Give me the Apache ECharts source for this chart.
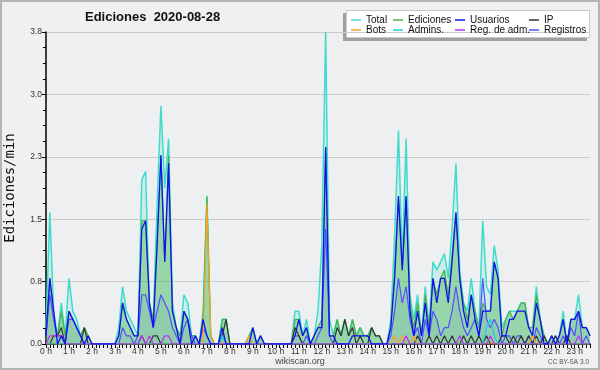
<!DOCTYPE html>
<html>
<head>
<meta charset="utf-8">
<script src="https://cdn.jsdelivr.net/npm/echarts@6/dist/echarts.min.js"></script>
<style>
    html, body { margin: 0; padding: 0; background: #f0f0f0; }
    #chart { width: 600px; height: 370px; }
</style>
</head>
<body>
<div id="chart"></div>
<script>
// etiquetas de las horas (una marca cada 10 minutos, 6 por hora)
const hourLabels = ['0 h', '1 h', '2 h', '3 h', '4 h', '5 h', '6 h', '7 h', '8 h', '9 h', '10 h', '11 h',
    '12 h', '13 h', '14 h', '15 h', '16 h', '17 h', '18 h', '19 h', '20 h', '21 h', '22 h', '23 h']
const yTicks = [0, 0.76, 1.52, 2.28, 3.04, 3.8]

// ediciones por minuto, bloques de 10 min (una fila = una hora)
const total = [
    0.2, 1.6, 0.4, 0.1, 0.5, 0.1,
    0.8, 0.4, 0.3, 0.1, 0.2, 0.1,
    0, 0, 0, 0, 0, 0,
    0, 0.2, 0.7, 0.4, 0.3, 0.2,
    0.1, 2.0, 2.1, 0.4, 0.3, 1.7,
    2.9, 1.9, 2.5, 0.5, 0.2, 0.1,
    0.6, 0.5, 0.1, 0.1, 0, 0.4,
    1.8, 0.1, 0, 0, 0.3, 0.3,
    0, 0, 0, 0, 0, 0.1,
    0.2, 0, 0.1, 0, 0, 0,
    0, 0, 0, 0, 0, 0.4,
    0.4, 0.1, 0.3, 0, 0.1, 0.4,
    1.2, 3.8, 0.3, 0.1, 0.3, 0.1,
    0.3, 0.1, 0.3, 0.1, 0.2, 0.1,
    0.1, 0.2, 0.1, 0.1, 0, 0,
    0.3, 1.3, 2.6, 1.0, 2.5, 0.6,
    0.3, 0.6, 0.1, 0.7, 0.2, 1.0,
    0.9, 1.0, 1.1, 0.8, 1.4, 2.2,
    0.9, 0.5, 0.4, 0.8, 0.4, 0.2,
    1.5, 0.7, 0.6, 1.2, 0.9, 0.2,
    0.3, 0.4, 0.4, 0.4, 0.5, 0.5,
    0.2, 0.2, 0.7, 0.3, 0.1, 0,
    0.1, 0, 0.1, 0.4, 0, 0.3,
    0.3, 0.6, 0.2, 0.2, 0.1
]
const ediciones = [
    0.2, 0.8, 0.3, 0.1, 0.4, 0.1,
    0.4, 0.3, 0.2, 0.1, 0.2, 0.1,
    0, 0, 0, 0, 0, 0,
    0, 0.1, 0.5, 0.3, 0.2, 0.1,
    0.1, 1.5, 1.5, 0.5, 0.3, 1.3,
    2.3, 1.0, 2.3, 0.4, 0.2, 0.1,
    0.4, 0.3, 0.1, 0.1, 0, 0.3,
    1.8, 0.1, 0, 0, 0.3, 0.3,
    0, 0, 0, 0, 0, 0.1,
    0.2, 0, 0.1, 0, 0, 0,
    0, 0, 0, 0, 0, 0.3,
    0.3, 0.1, 0.2, 0, 0.1, 0.2,
    0.3, 2.4, 0.1, 0.1, 0.3, 0.1,
    0.3, 0.1, 0.3, 0.1, 0.2, 0.1,
    0.1, 0.2, 0.1, 0.1, 0, 0,
    0.2, 0.9, 1.8, 0.9, 1.8, 0.5,
    0.2, 0.5, 0.1, 0.6, 0.2, 0.8,
    0.6, 0.8, 0.9, 0.6, 1.1, 1.6,
    0.8, 0.5, 0.3, 0.6, 0.4, 0.2,
    0.5, 0.4, 0.4, 1.0, 0.8, 0.1,
    0.3, 0.4, 0.3, 0.4, 0.5, 0.5,
    0.2, 0.2, 0.6, 0.3, 0.1, 0,
    0.1, 0, 0.1, 0.3, 0, 0.3,
    0.3, 0.4, 0.2, 0.2, 0.1
]
const usuarios = [
    0.1, 0.8, 0.4, 0, 0.1, 0,
    0.4, 0.3, 0.2, 0.1, 0, 0.1,
    0, 0, 0, 0, 0, 0,
    0, 0.1, 0.5, 0.3, 0.2, 0.1,
    0.1, 1.4, 1.5, 0.5, 0.2, 1.2,
    2.3, 1.0, 2.2, 0.4, 0.2, 0,
    0.4, 0.3, 0, 0.1, 0, 0.3,
    0.1, 0, 0, 0, 0.2, 0,
    0, 0, 0, 0, 0, 0,
    0.2, 0, 0.1, 0, 0, 0,
    0, 0, 0, 0, 0, 0.1,
    0.3, 0.1, 0.2, 0, 0.1, 0.2,
    0.2, 2.4, 0.1, 0.1, 0, 0,
    0, 0, 0.1, 0.1, 0.1, 0.1,
    0.1, 0, 0, 0, 0, 0,
    0.2, 0.8, 1.8, 0.9, 1.8, 0.4,
    0.1, 0.4, 0.1, 0.5, 0.1, 0.8,
    0.5, 0.8, 0.8, 0.5, 1.0, 1.6,
    0.8, 0.4, 0.2, 0.6, 0.3, 0.1,
    0.4, 0.4, 0.4, 1.0, 0.8, 0.1,
    0.1, 0.3, 0.3, 0.4, 0.4, 0.4,
    0.2, 0.1, 0.5, 0.3, 0, 0,
    0.1, 0, 0.1, 0.3, 0, 0.3,
    0.3, 0.4, 0.2, 0.2, 0.1
]
const ip = [
    0, 0, 0.1, 0.1, 0.2, 0,
    0, 0, 0, 0, 0.2, 0,
    0, 0, 0, 0, 0, 0,
    0, 0, 0, 0, 0, 0,
    0, 0.1, 0, 0, 0.1, 0.1,
    0, 0, 0, 0, 0, 0,
    0, 0, 0, 0, 0, 0,
    0, 0, 0, 0, 0.1, 0.3,
    0, 0, 0, 0, 0, 0,
    0, 0, 0, 0, 0, 0,
    0, 0, 0, 0, 0, 0.2,
    0.1, 0, 0, 0, 0, 0,
    0, 0, 0, 0, 0.2, 0.1,
    0.3, 0.1, 0.2, 0, 0.1, 0,
    0, 0.2, 0.1, 0.1, 0, 0,
    0, 0, 0, 0, 0, 0,
    0, 0.1, 0, 0, 0.1, 0,
    0.1, 0, 0.1, 0, 0.1, 0,
    0, 0.1, 0, 0.1, 0, 0.1,
    0, 0.1, 0, 0, 0, 0.1,
    0.1, 0, 0.1, 0, 0.1, 0,
    0.1, 0, 0.1, 0, 0.1, 0,
    0, 0.1, 0, 0, 0.1, 0,
    0, 0, 0, 0, 0
]
const registros = [
    0.1, 0.6, 0.3, 0.1, 0.1, 0,
    0.3, 0.3, 0.2, 0.1, 0, 0,
    0, 0, 0, 0, 0, 0,
    0, 0, 0.2, 0.1, 0.1, 0,
    0.1, 0.6, 0.6, 0.4, 0.2, 0.4,
    0.6, 0.5, 0.4, 0.2, 0.1, 0,
    0.2, 0.3, 0.1, 0, 0, 0.2,
    0.1, 0, 0, 0, 0.1, 0,
    0, 0, 0, 0, 0, 0,
    0, 0, 0, 0, 0, 0,
    0, 0, 0, 0, 0, 0.1,
    0.1, 0, 0.1, 0, 0, 0.1,
    0.2, 1.4, 0.1, 0, 0, 0,
    0, 0, 0, 0, 0, 0,
    0, 0, 0, 0, 0, 0,
    0.1, 0.4, 0.8, 0.5, 0.7, 0.3,
    0.1, 0.2, 0, 0.3, 0.1, 0.4,
    0.3, 0.1, 0.2, 0.2, 0.4, 0.7,
    0.4, 0.2, 0.1, 0.2, 0.3, 0.1,
    0.8, 0.3, 0.2, 0.3, 0.2, 0,
    0.1, 0.1, 0, 0.1, 0.1, 0,
    0.1, 0, 0.2, 0.1, 0, 0,
    0, 0.1, 0, 0.1, 0, 0.2,
    0.1, 0.4, 0, 0.1, 0
]
const bots = [
    0, 0, 0, 0, 0, 0,
    0, 0, 0, 0, 0, 0,
    0, 0, 0, 0, 0, 0,
    0, 0, 0, 0, 0, 0,
    0, 0, 0, 0, 0, 0,
    0, 0, 0, 0, 0, 0,
    0, 0, 0, 0, 0, 0,
    1.7, 0.1, 0, 0, 0, 0,
    0, 0, 0, 0, 0, 0.1,
    0, 0, 0, 0, 0, 0,
    0, 0, 0, 0, 0, 0,
    0, 0, 0, 0, 0, 0,
    0, 0, 0, 0, 0, 0,
    0, 0, 0, 0, 0, 0,
    0, 0, 0, 0, 0, 0,
    0, 0.1, 0, 0.1, 0, 0,
    0.1, 0, 0, 0, 0, 0,
    0, 0, 0, 0, 0, 0,
    0, 0, 0, 0, 0, 0,
    0, 0, 0, 0, 0, 0,
    0, 0, 0, 0, 0, 0,
    0, 0.1, 0, 0, 0, 0,
    0, 0, 0, 0, 0, 0,
    0, 0, 0, 0, 0
]
const admins = [
    0, 0, 0, 0, 0, 0,
    0, 0, 0, 0, 0, 0,
    0, 0, 0, 0, 0, 0,
    0, 0, 0, 0, 0, 0,
    0, 0, 0, 0, 0, 0,
    0, 0, 0, 0, 0, 0,
    0, 0, 0, 0, 0, 0,
    0, 0, 0, 0, 0.1, 0,
    0, 0, 0, 0, 0, 0,
    0, 0, 0, 0, 0, 0,
    0, 0, 0, 0, 0, 0,
    0, 0, 0, 0, 0, 0,
    0, 0, 0, 0, 0, 0,
    0, 0, 0, 0, 0, 0,
    0, 0, 0, 0, 0, 0,
    0, 0, 0, 0, 0, 0,
    0, 0, 0, 0, 0, 0,
    0, 0, 0, 0, 0, 0,
    0, 0, 0, 0, 0, 0,
    0, 0.2, 0.3, 0.1, 0, 0,
    0, 0, 0, 0, 0, 0,
    0, 0, 0, 0, 0, 0,
    0, 0, 0, 0, 0, 0,
    0, 0, 0, 0, 0
]
const regAdm = [
    0, 0.1, 0.1, 0.1, 0.1, 0,
    0, 0, 0, 0, 0, 0,
    0, 0, 0, 0, 0, 0,
    0, 0, 0, 0, 0, 0,
    0, 0.1, 0, 0.1, 0, 0,
    0, 0.1, 0.1, 0, 0, 0,
    0, 0, 0, 0, 0, 0,
    0, 0, 0, 0, 0, 0,
    0, 0, 0, 0, 0, 0,
    0, 0, 0, 0, 0, 0,
    0, 0, 0, 0, 0, 0,
    0, 0, 0, 0, 0, 0,
    0, 0, 0, 0, 0, 0,
    0, 0, 0, 0, 0, 0,
    0, 0, 0, 0, 0, 0,
    0, 0, 0, 0, 0.1, 0,
    0, 0, 0, 0, 0, 0,
    0, 0, 0, 0, 0, 0,
    0.1, 0, 0, 0, 0, 0,
    0, 0, 0.1, 0, 0, 0,
    0, 0, 0, 0, 0, 0,
    0, 0, 0, 0, 0, 0,
    0, 0, 0, 0, 0, 0,
    0, 0.1, 0, 0, 0
]

// categorías: una cada 10 min, etiqueta solo en la hora en punto
const categories = total.map((v, i) => (i % 6 === 0 ? hourLabels[i / 6] : ''))

const font = 'Liberation Sans, Arial, sans-serif'

const mkLine = (name, data, color, width, area) => {
    const s = {
        name: name,
        type: 'line',
        data: data,
        symbol: 'none',
        animation: false,
        lineStyle: { color: color, width: width },
        itemStyle: { color: color },
        emphasis: { disabled: true },
    }
    if (area) s.areaStyle = { color: area, opacity: 1 }
    return s
}

const legendBase = {
    orient: 'vertical',
    icon: 'rect',
    itemWidth: 10,
    itemHeight: 1.5,
    itemGap: 0,
    padding: 0,
    selectedMode: false,
    top: 15,
    textStyle: { fontFamily: font, fontSize: 10, color: '#111', lineHeight: 9 },
}

const chart = echarts.init(document.getElementById('chart'), null, { renderer: 'canvas' })

chart.setOption({
    backgroundColor: '#f0f0f0',
    animation: false,
    title: {
        text: 'Ediciones  2020-08-28',
        left: 85,
        top: 11,
        padding: 0,
        textStyle: { fontFamily: font, fontSize: 13, fontWeight: 'bold', color: '#111' },
    },
    legend: [
        Object.assign({}, legendBase, { left: 351, data: ['Total', 'Bots'] }),
        Object.assign({}, legendBase, { left: 393, data: ['Ediciones', 'Admins.'] }),
        Object.assign({}, legendBase, { left: 455, data: ['Usuarios', 'Reg. de adm.'] }),
        Object.assign({}, legendBase, { left: 529, data: ['IP', 'Registros'] }),
    ],
    graphic: [
        // marco exterior
        { type: 'rect', z: -10, silent: true, shape: { x: 1, y: 1, width: 598, height: 368 },
          style: { fill: null, stroke: '#b4b4b4', lineWidth: 2 } },
        // caja de la leyenda con sombra
        { type: 'rect', z: 0, silent: true, shape: { x: 343, y: 13, width: 244, height: 28 },
          style: { fill: '#a0a0a0' } },
        { type: 'rect', z: 0, silent: true, shape: { x: 346.5, y: 10.5, width: 243, height: 27 },
          style: { fill: '#ffffff', stroke: '#c8c8c8', lineWidth: 1 } },
        { type: 'text', silent: true, left: 'center', top: 357,
          style: { text: 'wikiscan.org', font: '9px ' + font, fill: '#444' } },
        { type: 'text', silent: true, right: 11, top: 359,
          style: { text: 'CC BY-SA 3.0', font: '6.5px ' + font, fill: '#555' } },
    ],
    grid: {
        left: 46, right: 10, top: 32, bottom: 26,
        outerBoundsMode: 'none',
        containLabel: false,
        show: true, backgroundColor: '#edeff1', borderWidth: 0,
    },
    xAxis: {
        type: 'category',
        data: categories,
        boundaryGap: false,
        axisLine: { lineStyle: { color: '#000', width: 1.5 } },
        axisTick: { interval: 0, length: 4, lineStyle: { color: '#000' } },
        axisLabel: { interval: 0, margin: 3, fontFamily: font, fontSize: 8.5, color: '#333' },
        splitLine: { show: false },
    },
    yAxis: {
        type: 'value',
        min: yTicks[0],
        max: yTicks[yTicks.length - 1],
        interval: yTicks[1],
        name: 'Ediciones/min',
        nameLocation: 'middle',
        nameGap: 29,
        nameTextStyle: { fontFamily: 'DejaVu Sans Mono, monospace', fontSize: 14, color: '#111' },
        axisLine: { show: true, lineStyle: { color: '#000', width: 1.5 } },
        axisTick: { show: true, length: 4, lineStyle: { color: '#000' } },
        minorTick: { show: true, splitNumber: 4, length: 3, lineStyle: { color: '#000' } },
        axisLabel: {
            margin: 4, fontFamily: font, fontSize: 8.5, color: '#333',
            formatter: v => v.toFixed(1),
        },
        splitLine: { lineStyle: { color: '#cbcbcb', width: 1.2 } },
    },
    series: [
        mkLine('Total', total, '#40dccb', 1.5, 'rgba(64,224,208,0.18)'),
        mkLine('Ediciones', ediciones, '#48b448', 1.2, 'rgba(60,180,60,0.38)'),
        mkLine('Registros', registros, '#5050ff', 1.2, 'rgba(40,40,255,0.05)'),
        mkLine('IP', ip, '#333333', 1.2),
        mkLine('Bots', bots, '#ffa020', 1.2),
        mkLine('Admins.', admins, '#20c8e8', 1.2),
        mkLine('Reg. de adm.', regAdm, '#c030f0', 1.2),
        mkLine('Usuarios', usuarios, '#1010f0', 1.3),
    ],
})
</script>
</body>
</html>
